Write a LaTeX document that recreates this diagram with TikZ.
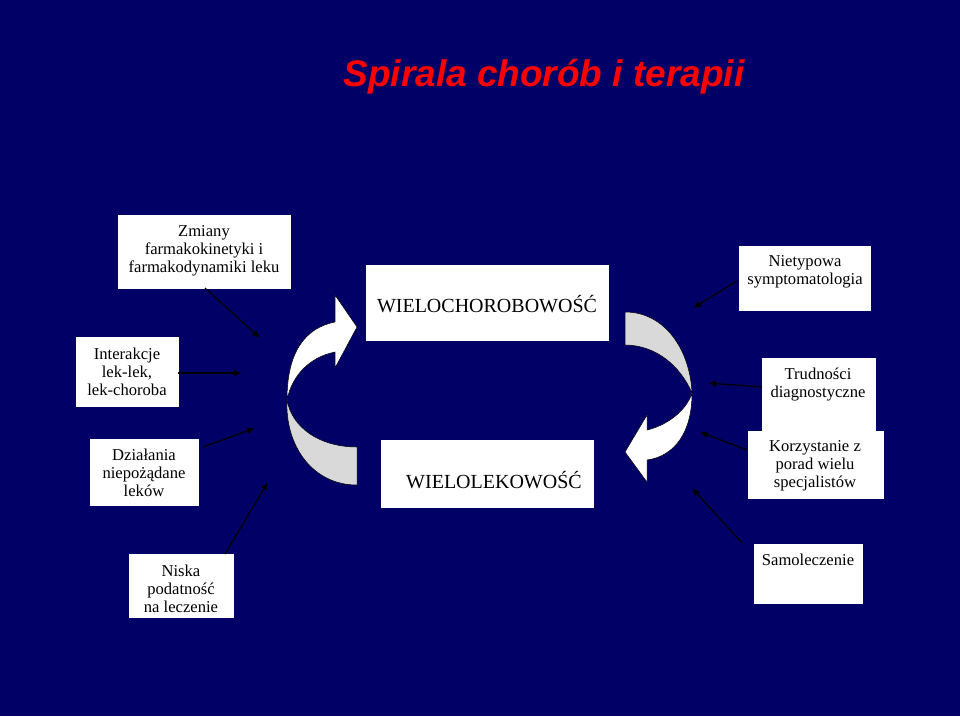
\documentclass[tikz,border=0pt]{standalone}
\usepackage{fontspec}
\setmainfont{Liberation Serif}
\newfontfamily\titlefont{Liberation Sans}
\usetikzlibrary{arrows.meta}
\definecolor{bg}{HTML}{000066}
\definecolor{band}{HTML}{D9D9D9}
\begin{document}
\begin{tikzpicture}[x=1pt,y=-1pt,
  wbox/.style={fill=white,draw=white},
  lbl/.style={align=center,font=\fontsize{16.6}{18}\selectfont,inner sep=0pt},
  big/.style={font=\fontsize{20}{22}\selectfont,inner sep=0pt},
  conn/.style={draw=black,line width=1.2pt,-{Latex[length=8pt,width=7pt]}},
  rib/.style={draw=black,line width=0.5pt}]
\fill[bg] (0,0) rectangle (960,716);
\useasboundingbox (0,0) rectangle (960,716);
\node[font=\titlefont\bfseries\itshape\fontsize{37}{40}\selectfont,text=red] (title) at (544,77) {Spirala chorób i terapii};
% boxes
\fill[wbox] (118,215) rectangle (290,288); \node[lbl] (zm) at (204,251) {Zmiany\\farmakokinetyki i\\farmakodynamiki leku};
\fill[wbox] (76,337) rectangle (178,406); \node[lbl] (in) at (127,372) {Interakcje\\lek-lek,\\lek-choroba};
\fill[wbox] (90,439) rectangle (198,505); \node[lbl] (dz) at (144,473) {Działania\\niepożądane\\leków};
\fill[wbox] (129,554) rectangle (233,617); \node[lbl] (ni) at (181,589) {Niska\\podatność\\na leczenie};
\fill[wbox] (739,246) rectangle (870,310); \node[lbl] (nt) at (805,272) {Nietypowa\\symptomatologia};
\fill[wbox] (762,358) rectangle (875,432); \node[lbl] (tr) at (818,385) {Trudności\\diagnostyczne};
\fill[wbox] (748,431) rectangle (883,498); \node[lbl] (ko) at (815,466) {Korzystanie z\\porad wielu\\specjalistów};
\fill[wbox] (754,544) rectangle (862,603); \node[lbl] (sa) at (808,560) {Samoleczenie};
\fill[wbox] (366,265) rectangle (608,340); \node[big] (wc) at (487,304) {WIELOCHOROBOWOŚĆ};
\fill[wbox] (381,440) rectangle (593,507); \node[big] (wl) at (494,480) {WIELOLEKOWOŚĆ};
% ribbons
\filldraw[rib,fill=band] (357,447) .. controls (320,447) and (292,428) .. (287,400) .. controls (285,445) and (312,485) .. (357,485) -- cycle;
\filldraw[rib,fill=white] (287,400) .. controls (287,352) and (305,328) .. (335,322) -- (335,295) -- (357,327) -- (335,368) -- (335,352) .. controls (310,357) and (292,375) .. (287,400) -- cycle;
\filldraw[rib,fill=band] (625,312) .. controls (665,312) and (690,350) .. (692,393) .. controls (680,365) and (655,345) .. (625,345) -- cycle;
\filldraw[rib,fill=white] (692,393) .. controls (692,432) and (675,456) .. (647,460) -- (647,482) -- (625,452) -- (647,415) -- (647,430) .. controls (665,426) and (686,412) .. (692,393) -- cycle;
% connectors
\coordinate (a1) at (260,338); \coordinate (a2) at (242,373); \coordinate (a3) at (255,428); \coordinate (a4) at (268,482);
\coordinate (b1) at (693,308); \coordinate (b2) at (708,383); \coordinate (b3) at (700,432); \coordinate (b4) at (692,488);
\draw[conn] (205,288) -- (a1);
\draw[conn] (178,373) -- (a2);
\draw[conn] (203,447) -- (a3);
\draw[conn] (225,554) -- (a4);
\draw[conn] (737,281) -- (b1);
\draw[conn] (762,387) -- (b2);
\draw[conn] (747,450) -- (b3);
\draw[conn] (742,543) -- (b4);
\end{tikzpicture}
\end{document}
